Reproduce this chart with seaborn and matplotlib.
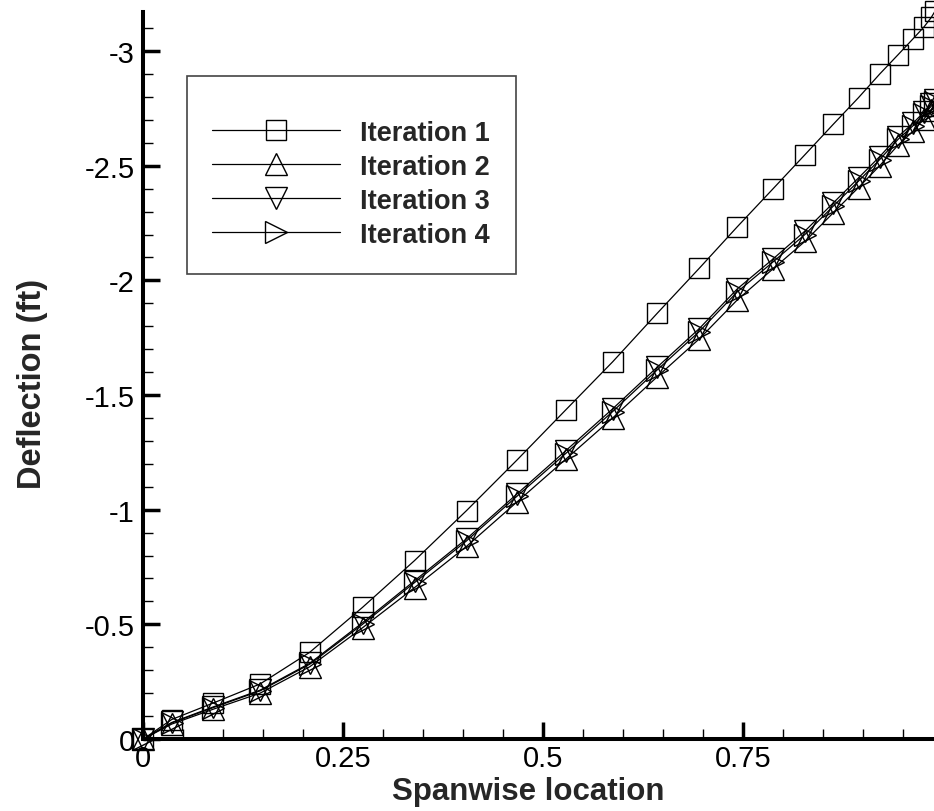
import matplotlib
matplotlib.use('Agg')
import matplotlib.pyplot as plt
import pandas as pd
import seaborn as sns
from matplotlib.ticker import MultipleLocator, FixedLocator, FixedFormatter

# ---------------- data ----------------
spanwise = [0.0, 0.0355, 0.0875, 0.146, 0.208, 0.274, 0.339, 0.404, 0.4675, 0.528,
            0.5867, 0.6425, 0.695, 0.7425, 0.787, 0.827, 0.8625, 0.894, 0.9205, 0.9434,
            0.962, 0.976, 0.985, 0.990]

iteration1 = [0.0, -0.085, -0.157, -0.240, -0.378, -0.574, -0.778, -0.996, -1.218, -1.435,
              -1.645, -1.857, -2.053, -2.234, -2.399, -2.548, -2.681, -2.797, -2.900, -2.984,
              -3.053, -3.106, -3.147, -3.176]

iteration2 = [0.0, -0.065, -0.130, -0.200, -0.315, -0.485, -0.660, -0.840, -1.035, -1.220,
              -1.400, -1.580, -1.745, -1.915, -2.050, -2.170, -2.295, -2.405, -2.500, -2.590,
              -2.650, -2.705, -2.745, -2.765]

iteration3 = [0.0, -0.072, -0.140, -0.213, -0.330, -0.507, -0.690, -0.873, -1.070, -1.257,
              -1.440, -1.622, -1.790, -1.963, -2.093, -2.215, -2.338, -2.447, -2.540, -2.627,
              -2.685, -2.735, -2.770, -2.788]

iteration4 = [0.0, -0.070, -0.137, -0.210, -0.326, -0.500, -0.682, -0.864, -1.060, -1.245,
              -1.428, -1.610, -1.777, -1.950, -2.080, -2.200, -2.324, -2.433, -2.527, -2.615,
              -2.674, -2.725, -2.760, -2.778]

series_labels = ['Iteration 1', 'Iteration 2', 'Iteration 3', 'Iteration 4']
series_markers = ['s', '^', 'v', '>']
series_msize = [13.7, 16.0, 16.0, 16.0]

x_ticks = [0, 0.25, 0.5, 0.75]
x_tick_labels = ['0', '0.25', '0.5', '0.75']
y_ticks = [0, -0.5, -1, -1.5, -2, -2.5, -3]
y_tick_labels = ['0', '-0.5', '-1', '-1.5', '-2', '-2.5', '-3']

x_label = 'Spanwise location'
y_label = 'Deflection (ft)'

# ---------------- style ----------------
sns.set_style('ticks')
plt.rcParams['font.family'] = ['Liberation Sans', 'DejaVu Sans']

W, H = 934, 812
fig = plt.figure(figsize=(W / 100, H / 100), dpi=100)
ax = fig.add_axes([143.3 / W, 72 / H, (W - 143.3) / W, 727 / H])

all_series = [iteration1, iteration2, iteration3, iteration4]
for vals, lab, mk, ms in zip(all_series, series_labels, series_markers, series_msize):
    df = pd.DataFrame({'x': spanwise, 'y': vals})
    sns.lineplot(data=df, x='x', y='y', ax=ax, color='black', linewidth=0.9,
                 marker=mk, markersize=ms, markerfacecolor='none',
                 markeredgecolor='black', markeredgewidth=1.0,
                 label=lab, clip_on=False, sort=False)

ax.set_xlim(0, (W - 143.3) / 800)
ax.set_ylim(0, -3.1705)

ax.xaxis.set_major_locator(FixedLocator(x_ticks))
ax.xaxis.set_major_formatter(FixedFormatter(x_tick_labels))
ax.yaxis.set_major_locator(FixedLocator(y_ticks))
ax.yaxis.set_major_formatter(FixedFormatter(y_tick_labels))
ax.xaxis.set_minor_locator(MultipleLocator(0.05))
ax.yaxis.set_minor_locator(MultipleLocator(0.1))

ax.tick_params(which='major', direction='in', length=12, width=2.5, labelsize=21,
               pad=6, color='black', labelcolor='black', top=False, right=False)
ax.tick_params(axis='x', which='major', pad=3.5)
ax.tick_params(which='minor', direction='in', length=7, width=1.0, color='black',
               top=False, right=False)

for s in ['top', 'right']:
    ax.spines[s].set_visible(False)
for s in ['left', 'bottom']:
    ax.spines[s].set_linewidth(2.9)
    ax.spines[s].set_color('black')

ax.set_xlabel(x_label, fontsize=22.5, fontweight='bold')
ax.set_ylabel(y_label, fontsize=23.5, fontweight='bold')
ax.xaxis.set_label_coords(0.4866, -0.051)
ax.yaxis.set_label_coords(-0.12, 0.49)

leg = ax.legend(loc='upper left', bbox_to_anchor=((186.7 - 143.3) / (W - 143.3), (740 - 76.7) / 727),
                borderaxespad=0, prop={'weight': 'bold', 'size': 19.5},
                handlelength=4.72, handletextpad=0.74, labelspacing=0.3,
                borderpad=0.95, frameon=True, fancybox=False, framealpha=1,
                title=' ', title_fontsize=7)
leg.get_frame().set_edgecolor('#444444')
leg.get_frame().set_linewidth(1.2)

fig.savefig('out.png', dpi=100)
